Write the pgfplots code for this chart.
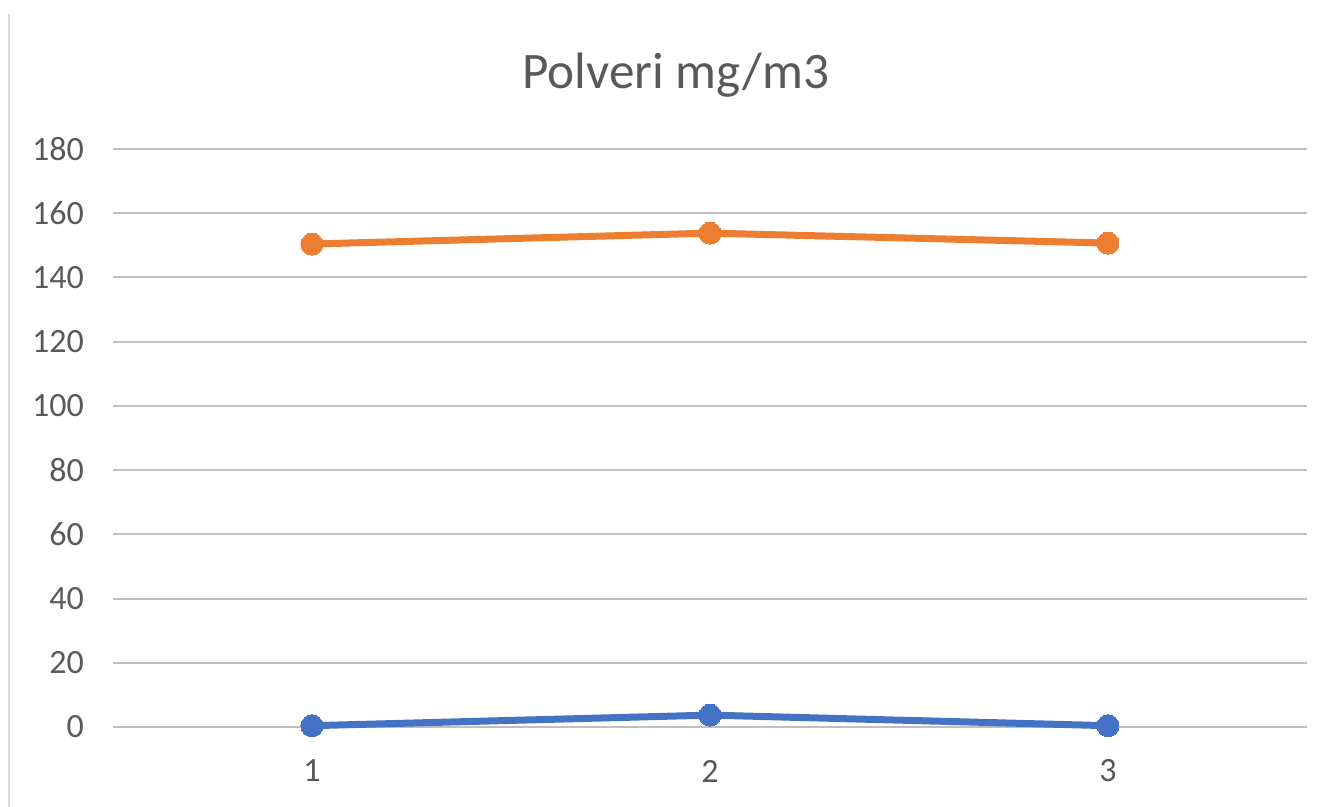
\documentclass[border=0pt]{standalone}
\usepackage{pgfplots}
\pgfplotsset{compat=1.18}
\usepackage{fontspec}
\setmainfont{Carlito}
\definecolor{txt}{HTML}{595959}
\definecolor{grid}{HTML}{D9D9D9}
\definecolor{orangeS}{HTML}{ED7D31}
\definecolor{blueS}{HTML}{4472C4}
\begin{document}
\begin{tikzpicture}
\begin{axis}[
  at={(0,0)}, anchor=south west,
  scale only axis, width=597pt, height=289pt,
  xmin=0.5, xmax=3.5, ymin=0, ymax=180,
  xtick={1,2,3}, ytick={0,20,...,180},
  axis line style={draw=none},
  tick style={draw=none},
  ymajorgrids, xmajorgrids=false, major grid style={grid, line width=1pt},
  ticklabel style={text=txt, font=\fontsize{17}{20}\selectfont},
  /pgf/number format/assume math mode=true,
  yticklabel style={anchor=east, xshift=-11pt},
  xticklabel style={anchor=center, yshift=-22pt},
  clip=false,
]
\addplot[orangeS, line width=3.5pt, mark=*, mark size=5.5pt, mark options={fill=orangeS, draw=orangeS, line width=0pt}]
  coordinates {(1,150.4) (2,153.8) (3,150.7)};
\addplot[blueS, line width=3.5pt, mark=*, mark size=5.5pt, mark options={fill=blueS, draw=blueS, line width=0pt}]
  coordinates {(1,0.4) (2,3.7) (3,0.4)};
\end{axis}
\node[text=txt, font=\fontsize{25.6}{30}\selectfont] at (281.5pt,326pt) {Polveri mg/m3};
\draw[grid, line width=1pt] (-52pt,356.5pt) -- (-52pt,-40pt);
\pgfresetboundingbox
\path (-56.5pt,-40pt) rectangle (611pt,363.5pt);
\end{tikzpicture}
\end{document}
